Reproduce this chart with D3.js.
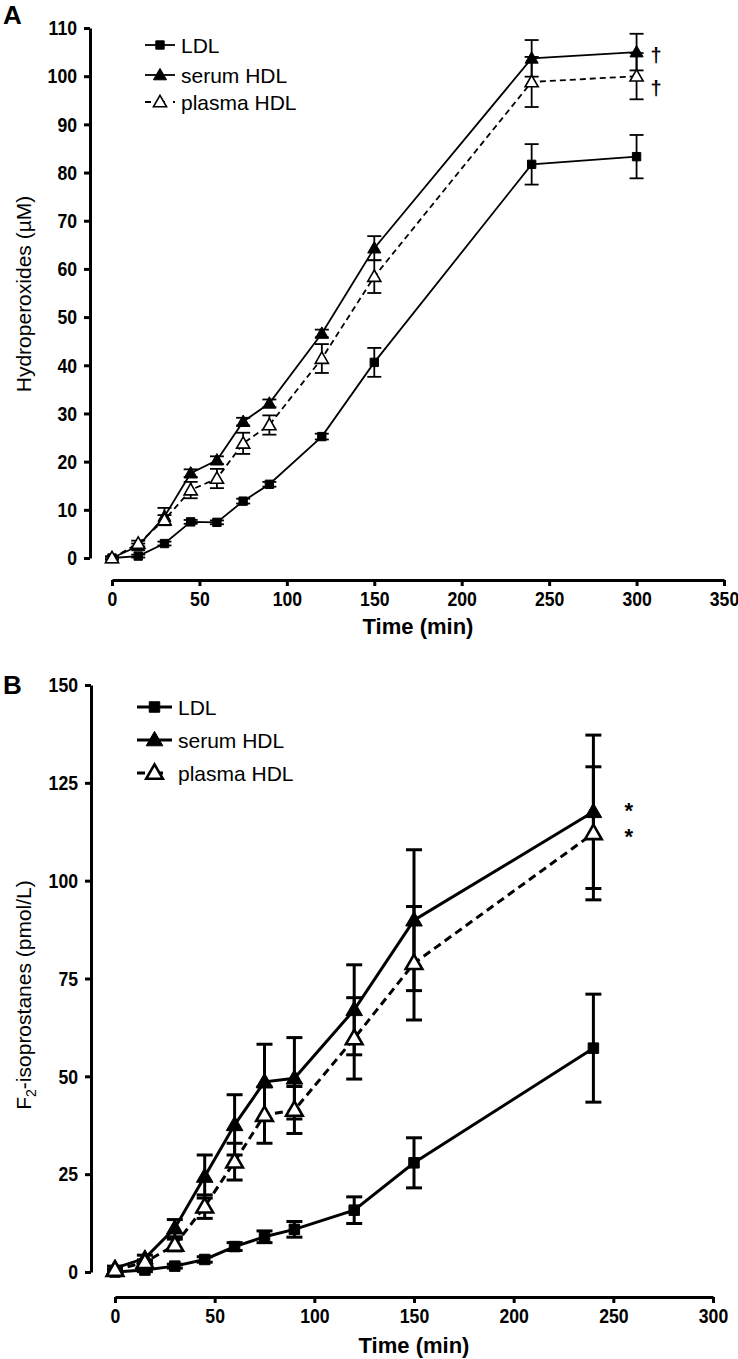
<!DOCTYPE html>
<html><head><meta charset="utf-8">
<script src="https://cdn.jsdelivr.net/npm/d3@7"></script>
<style>
body{margin:0;background:#fff;}
svg{display:block;}
.tick text{font-family:'Liberation Sans',Arial,sans-serif;font-weight:bold;}
</style></head>
<body>
<svg id="c" width="738" height="1359"></svg>
<script>
// ---- Data ----
const timesA = [0, 15, 30, 45, 60, 75, 90, 120, 150, 240, 300];
const ldlA      = [0, 0.4, 3.0, 7.5, 7.4, 11.8, 15.3, 25.2, 40.6, 81.7, 83.3];
const ldlAErr   = [0.3, 0.3, 0.4, 0.4, 0.4, 0.5, 0.5, 0.6, 3.0, 4.2, 4.5];
const serumA    = [0, 2.5, 8.6, 17.6, 20.3, 28.3, 32.1, 46.6, 64.3, 103.7, 105.0];
const serumAErr = [0.3, 0.5, 1.8, 0.8, 0.8, 0.8, 0.8, 0.8, 2.5, 3.8, 3.8];
const plasmaA   = [0, 3.0, 7.9, 14.1, 16.5, 23.8, 27.6, 41.4, 58.4, 98.8, 100.0];
const plasmaAErr= [0.3, 0.6, 1.0, 1.7, 2.0, 2.2, 2.0, 3.0, 3.4, 5.2, 4.8];

const timesB = [0, 15, 30, 45, 60, 75, 90, 120, 150, 240];
const ldlB      = [0, 0.5, 1.5, 3.2, 6.5, 9.0, 10.9, 15.8, 27.9, 57.2];
const ldlBErr   = [0.3, 0.4, 0.5, 0.7, 1.0, 1.5, 2.0, 3.4, 6.4, 13.8];
const serumB    = [1.0, 3.5, 11.2, 24.4, 37.6, 48.6, 49.5, 67.0, 89.9, 117.6];
const serumBErr = [0.5, 0.8, 2.2, 5.5, 7.7, 9.6, 10.4, 11.5, 18.0, 19.6];
const plasmaB   = [0.5, 2.5, 6.9, 16.7, 28.2, 40.1, 41.4, 59.7, 78.9, 112.1];
const plasmaBErr= [0.3, 0.6, 1.5, 3.0, 4.7, 7.2, 6.0, 10.4, 14.5, 17.0];

const seriesNames = ["LDL", "serum HDL", "plasma HDL"];
const yTicksA = d3.range(0, 111, 10);
const xTicksA = d3.range(0, 351, 50);
const yTicksB = d3.range(0, 151, 25);
const xTicksB = d3.range(0, 301, 50);

const svg = d3.select("#c");
const SX = 0.84; // horizontal squeeze of tick labels

function panel(cfg){
  const g = svg.append("g");
  const x = d3.scaleLinear(cfg.xDomain, cfg.xRange);
  const y = d3.scaleLinear(cfg.yDomain, cfg.yRange);

  // axes
  const ya = g.append("g").attr("transform",`translate(${cfg.yAxisX},0)`)
    .call(d3.axisLeft(y).tickValues(cfg.yTicks).tickSize(6).tickSizeOuter(0).tickPadding(7));
  const xa = g.append("g").attr("transform",`translate(0,${cfg.xAxisY})`)
    .call(d3.axisBottom(x).tickValues(cfg.xTicks).tickSize(6).tickSizeOuter(0).tickPadding(5));
  [ya,xa].forEach(a=>{
    a.select(".domain").attr("stroke","#000").attr("stroke-width",cfg.axisW);
    a.selectAll(".tick line").attr("stroke","#000").attr("stroke-width",cfg.axisW);
    a.selectAll(".tick text").attr("font-size",cfg.tickFs).attr("fill","#000")
      .attr("transform",`scale(${SX},1)`);
  });
  ya.selectAll(".tick text").attr("x",-13/SX);

  // axis titles
  g.append("text").attr("x",(cfg.xRange[0]+cfg.xRange[1])/2).attr("y",cfg.xTitleY)
    .attr("text-anchor","middle").attr("font-family","'Liberation Sans',Arial,sans-serif")
    .attr("font-weight","bold").attr("font-size",22).attr("fill","#000").text("Time (min)");
  const yt = g.append("text").attr("transform",`translate(${cfg.yTitleX},${cfg.yTitleY}) rotate(-90)`)
    .attr("text-anchor","middle").attr("font-family","'Liberation Sans',Arial,sans-serif")
    .attr("font-size",21).attr("fill","#000");
  cfg.yTitle(yt);

  // panel letter
  g.append("text").attr("x",cfg.letterX).attr("y",cfg.letterY)
    .attr("font-family","'Liberation Sans',Arial,sans-serif").attr("font-weight","bold")
    .attr("font-size",26).attr("fill","#000").text(cfg.letter);

  const series = [
    {v:cfg.ldl, e:cfg.ldlE, sym:d3.symbolSquare, size:cfg.sqSize, fill:"#000", dash:null},
    {v:cfg.serum, e:cfg.serumE, sym:d3.symbolTriangle, size:cfg.triSize, fill:"#000", dash:null},
    {v:cfg.plasma, e:cfg.plasmaE, sym:d3.symbolTriangle, size:cfg.triSize, fill:"#fff", dash:cfg.dash}
  ];
  const line = d3.line().x(d=>x(d[0])).y(d=>y(d[1]));
  series.forEach(s=>{
    const pts = cfg.times.map((t,i)=>[t,s.v[i],s.e[i]]);
    const eb = g.append("g").attr("stroke","#000").attr("stroke-width",cfg.errW);
    pts.forEach(p=>{
      eb.append("line").attr("x1",x(p[0])).attr("x2",x(p[0])).attr("y1",y(p[1]-p[2])).attr("y2",y(p[1]+p[2]));
      [p[1]-p[2],p[1]+p[2]].forEach(vv=>{
        eb.append("line").attr("x1",x(p[0])-cfg.capW/2).attr("x2",x(p[0])+cfg.capW/2).attr("y1",y(vv)).attr("y2",y(vv));
      });
    });
    g.append("path").datum(pts).attr("d",line).attr("fill","none").attr("stroke","#000")
      .attr("stroke-width",cfg.lineW).attr("stroke-dasharray",s.dash);
    g.append("g").selectAll("path").data(pts).join("path")
      .attr("transform",d=>`translate(${x(d[0])},${y(d[1])+(s.sym===d3.symbolTriangle?1:0)})`)
      .attr("d",d3.symbol(s.sym,s.size)).attr("fill",s.fill).attr("stroke","#000")
      .attr("stroke-width",s.fill==="#fff"?cfg.openW:1);
  });

  // legend
  seriesNames.forEach((n,i)=>{
    const s = series[i];
    const ly = cfg.legY[i];
    g.append("line").attr("x1",cfg.legX0).attr("x2",cfg.legX1).attr("y1",ly).attr("y2",ly)
      .attr("stroke","#000").attr("stroke-width",cfg.lineW).attr("stroke-dasharray",s.dash?cfg.legDash:null);
    g.append("path").attr("transform",`translate(${(cfg.legX0+cfg.legX1)/2},${ly+(s.sym===d3.symbolTriangle?1:0)})`)
      .attr("d",d3.symbol(s.sym,s.size)).attr("fill",s.fill).attr("stroke","#000")
      .attr("stroke-width",s.fill==="#fff"?cfg.openW:1);
    g.append("text").attr("x",cfg.legTX).attr("y",ly+7.5).attr("fill","#000")
      .attr("font-family","'Liberation Sans',Arial,sans-serif").attr("font-size",21).text(n);
  });

  // significance marks
  cfg.marks.forEach((m,i)=>{
    g.append("text").attr("x",x(m.t)+cfg.markDx).attr("y",y(m.v)+cfg.markDy[i]).attr("fill","#000")
      .attr("font-family","'Liberation Sans',Arial,sans-serif").attr("font-weight","bold")
      .attr("font-size",cfg.markFs).text(cfg.markChar);
  });
}

panel({
  letter:"A", letterX:3, letterY:24,
  times:timesA, ldl:ldlA, ldlE:ldlAErr, serum:serumA, serumE:serumAErr, plasma:plasmaA, plasmaE:plasmaAErr,
  xDomain:[0,350], xRange:[112,724], yDomain:[0,110], yRange:[558,28],
  yAxisX:90, xAxisY:580, yTicks:yTicksA, xTicks:xTicksA,
  axisW:3, tickFs:21, xTitleY:634, yTitleX:31, yTitleY:294,
  yTitle:t=>t.text("Hydroperoxides (µM)"),
  sqSize:70, triSize:75, lineW:1.8, errW:1.8, capW:14, openW:1.6, dash:"6,4",
  legX0:145, legX1:175, legTX:181, legY:[45,75,102], legDash:"6,8",
  marks:[{t:300,v:serumA[10]},{t:300,v:plasmaA[10]}], markDx:14, markDy:[10,19], markFs:20, markChar:"†"
});

panel({
  letter:"B", letterX:3, letterY:694,
  times:timesB, ldl:ldlB, ldlE:ldlBErr, serum:serumB, serumE:serumBErr, plasma:plasmaB, plasmaE:plasmaBErr,
  xDomain:[0,300], xRange:[115,713], yDomain:[0,150], yRange:[1272,685],
  yAxisX:91, xAxisY:1297, yTicks:yTicksB, xTicks:xTicksB,
  axisW:3, tickFs:21, xTitleY:1353, yTitleX:31, yTitleY:995,
  yTitle:t=>{t.text("F"); t.append("tspan").attr("font-size",14).attr("dy",5).text("2");
             t.append("tspan").attr("dy",-5).text("-isoprostanes (pmol/L)");},
  sqSize:110, triSize:120, lineW:3, errW:3, capW:16, openW:2.6, dash:"8,5",
  legX0:137, legX1:172, legTX:178, legY:[707,740,773], legDash:"8,10",
  marks:[{t:240,v:serumB[9]},{t:240,v:plasmaB[9]}], markDx:31, markDy:[6,11], markFs:22, markChar:"*"
});
</script>
</body></html>
